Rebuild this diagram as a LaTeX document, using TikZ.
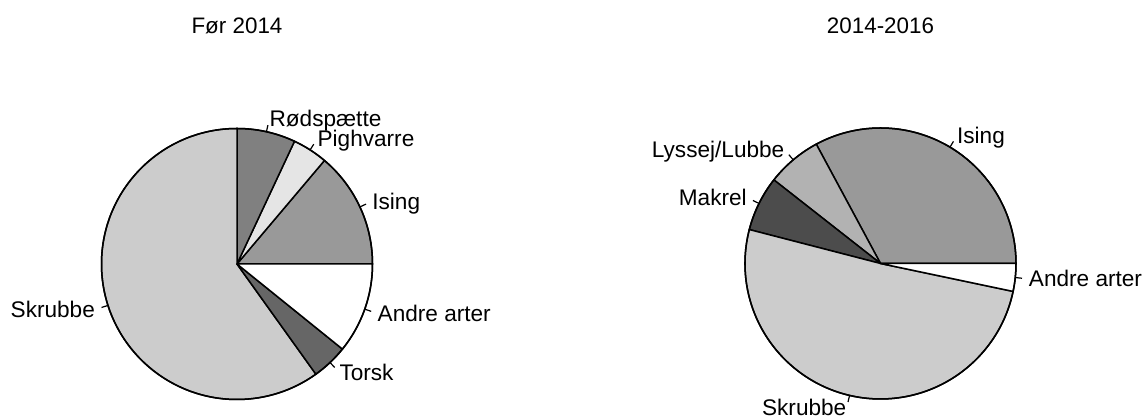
\documentclass[tikz,border=0pt]{standalone}
\usepackage{fontspec}
\setmainfont{Liberation Sans}
\definecolor{gA}{gray}{0.5}
\definecolor{gB}{gray}{0.9}
\definecolor{gC}{gray}{0.6}
\definecolor{gD}{gray}{0.4}
\definecolor{gE}{gray}{0.8}
\definecolor{gF}{gray}{0.7}
\definecolor{gG}{gray}{0.3}
\newcommand\Rpie{135.5}
% #1 centre, #2 start angle, #3 end angle, #4 fill, #5 anchor/options, #6 node name, #7 text
\newcommand\mkslice[7]{%
  \pgfmathsetmacro\mida{(#2+#3)/2}%
  \filldraw[slice, fill=#4] (#1) -- ([shift={(#2:\Rpie)}]#1) arc[start angle=#2, end angle=#3, radius=\Rpie] -- cycle;
  \draw[tickln] ([shift={(\mida:\Rpie)}]#1) -- ([shift={(\mida:1.05*\Rpie)}]#1);
  \node[lbl, #5] (#6) at ([shift={(\mida:1.1*\Rpie)}]#1) {#7};
}
\begin{document}
\begin{tikzpicture}[x=1pt,y=1pt,
  slice/.style={draw=black, line width=1.5pt, line join=round},
  tickln/.style={draw=black, line width=1.2pt},
  lbl/.style={font=\fontsize{22.6}{26}\selectfont, inner sep=0pt, yshift=-8pt},
  ttl/.style={font=\fontsize{22.4}{26}\selectfont, inner sep=0pt, anchor=base}]
\useasboundingbox (0,0) rectangle (1144,419);
\fill[white] (0,0) rectangle (1144,419);
\coordinate (cL) at (237,155);
\coordinate (cR) at (880.5,155.5);

\node[ttl] (tL) at (237,385.5) {Før 2014};
\node[ttl] (tR) at (880.5,385.5) {2014-2016};

% left pie
\mkslice{cL}{0}{49.8}{gC}{anchor=base west}{lIsing}{Ising}
\mkslice{cL}{49.8}{64.9}{gB}{anchor=base west}{lPigh}{Pighvarre}
\mkslice{cL}{64.9}{90}{gA}{anchor=base west}{lRod}{Rødspætte}
\mkslice{cL}{90}{305.6}{gE}{anchor=base east}{lSkr}{Skrubbe}
\mkslice{cL}{305.6}{321.1}{gD}{anchor=base west}{lTorsk}{Torsk}
\mkslice{cL}{321.1}{360}{white}{anchor=base west}{lAndre}{Andre arter}
\draw[slice] (cL) circle[radius=\Rpie];

% right pie
\mkslice{cR}{0}{118.3}{gC}{anchor=base west}{rIsing}{Ising}
\mkslice{cR}{118.3}{141.9}{gF}{anchor=base east}{rLys}{Lyssej/Lubbe}
\mkslice{cR}{141.9}{165.5}{gG}{anchor=base east}{rMak}{Makrel}
\mkslice{cR}{165.5}{348.1}{gE}{anchor=base east, text depth=0pt, yshift=1.5pt}{rSkr}{Skrubbe}
\mkslice{cR}{348.1}{360}{white}{anchor=base west}{rAndre}{Andre arter}
\draw[slice] (cR) circle[radius=\Rpie];
\end{tikzpicture}
\end{document}
